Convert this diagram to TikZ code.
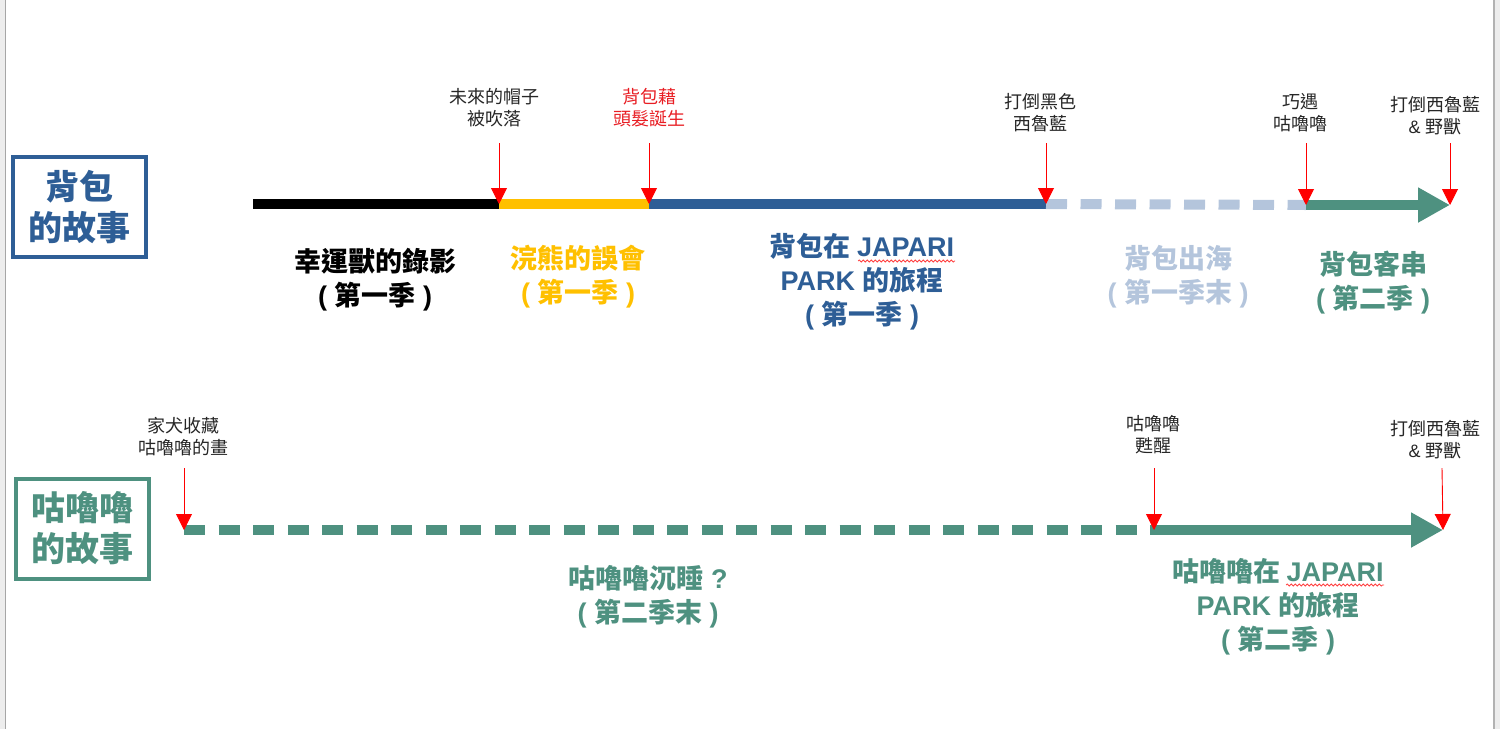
\documentclass[tikz,border=0pt]{standalone}
\usepackage{fontspec}
\setmainfont{Liberation Sans}
\newfontfamily\cjk{Noto Sans CJK TC}
\usetikzlibrary{arrows.meta, decorations.pathmorphing}

\definecolor{bagblue}{RGB}{46,94,150}
\definecolor{seablue}{RGB}{180,197,220}
\definecolor{raccoon}{RGB}{255,192,0}
\definecolor{serval}{RGB}{78,145,128}
\definecolor{hitred}{RGB}{255,0,0}
\definecolor{notered}{RGB}{232,30,36}

\newcommand{\lat}[1]{{\rmfamily #1}}

\begin{document}
\begin{tikzpicture}[x=1pt, y=-1pt,
  story/.style={draw, line width=4pt, minimum width=133pt, minimum height=100pt,
                align=center, inner sep=0pt,
                font=\cjk\bfseries\fontsize{34}{41}\selectfont},
  note/.style={align=center, inner sep=0pt, text=black!85,
               font=\cjk\fontsize{18}{22}\selectfont},
  era/.style={align=center, inner sep=0pt,
              font=\cjk\bfseries\fontsize{27}{34}\selectfont},
  seg/.style={line width=10pt},
  dseg/.style={line width=10pt, dash pattern=on 21pt off 13.5pt},
  bigarr/.style={line width=10pt, -{Triangle[length=32pt, width=33pt]}},
  hit/.style={draw=hitred, line width=0.9pt, -{Triangle[length=16pt, width=16pt]}},
  spell/.style={draw=red!75, line width=0.8pt, decorate,
                decoration={snake, amplitude=1pt, segment length=4pt}}
]
  \useasboundingbox (0,0) rectangle (1500,729);

  % ========== PAGE EDGES ==========
  \fill[black!7] (0,0) rectangle (5,729);
  \draw[black!35, line width=1.5pt] (5.5,0) -- (5.5,729);
  \fill[black!7] (1495,0) rectangle (1500,729);
  \draw[black!30, line width=1.5pt] (1494,0) -- (1494,729);

  % ========== STORY BOXES ==========
  \node[story, draw=bagblue, text=bagblue] (bagbox) at (79.5,207) {背包\\的故事};
  \node[story, draw=serval, text=serval] (serbox) at (82,528.5) {咕嚕嚕\\的故事};

  % ========== TIMELINE 1: Kaban ==========
  \coordinate (a0) at (253,204);
  \coordinate (a1) at (499,204);
  \coordinate (a2) at (649,204);
  \coordinate (a3) at (1046,204);
  \coordinate (a4) at (1306,205);
  \coordinate (a5) at (1450,205);

  \draw[seg, black] (a0) -- (a1);
  \draw[seg, raccoon] (a1) -- (a2);
  \draw[seg, bagblue] (a2) -- (a3);
  \draw[dseg, seablue] (a3) -- (a4);
  \draw[bigarr, serval] (a4) -- (a5);

  % ========== TIMELINE 2: Serval ==========
  \coordinate (b0) at (184,530);
  \coordinate (b1) at (1154,530);
  \coordinate (b2) at (1443,530);

  \draw[dseg, serval] (b0) -- (b1);
  \draw[bigarr, serval] (b1) -- (b2);

  % ======== RED MARKS ========
  \coordinate (ta1) at (499,143);
  \coordinate (ta2) at (649,143);
  \coordinate (ta3) at (1046,143);
  \coordinate (ta4) at (1306,143);
  \coordinate (ta5) at (1450,143);
  \coordinate (tb0) at (184,468);
  \coordinate (tb1) at (1154,468);
  \coordinate (tb2) at (1442,468);

  \foreach \p in {a1,a2,a3,a4,a5,b0,b1,b2}
    \draw[hit] (t\p) -- (\p);

  % ======== EVENT NOTES ========
  \node[note] (hat) at (494,108) {未來的帽子\\被吹落};
  \node[note, text=notered] (born) at (649,108) {背包藉\\頭髮誕生};
  \node[note] (black) at (1040,112.5) {打倒黑色\\西魯藍};
  \node[note] (meet) at (1300,112.5) {巧遇\\咕嚕嚕};
  \node[note] (beat1) at (1435,115.5) {打倒西魯藍\\\lat{\& }野獸};
  \node[note] (paint) at (183,436.5) {家犬收藏\\咕嚕嚕的畫};
  \node[note] (wake) at (1153,434.5) {咕嚕嚕\\甦醒};
  \node[note] (beat2) at (1435,439.5) {打倒西魯藍\\\lat{\& }野獸};

  % ======== ERA LABELS ========
  \node[era, text=black] (rec) at (375,279.5) {幸運獸的錄影\\\lat{( }第一季\lat{ )}};
  \node[era, text=raccoon] (mis) at (578,277) {浣熊的誤會\\\lat{( }第一季\lat{ )}};
  \node[era, text=bagblue] (trip1) at (862,282) {背包在 \lat{JAPARI}\\\lat{PARK }的旅程\\\lat{( }第一季\lat{ )}};
  \node[era, text=seablue] (sea) at (1178,276.5) {背包出海\\\lat{( }第一季末\lat{ )}};
  \node[era, text=serval] (guest) at (1373,282.5) {背包客串\\\lat{( }第二季\lat{ )}};
  \node[era, text=serval] (sleep) at (648,597) {咕嚕嚕沉睡\lat{ ?}\\\lat{( }第二季末\lat{ )}};
  \node[era, text=serval] (trip2) at (1278,607) {咕嚕嚕在 \lat{JAPARI}\\\lat{PARK }的旅程\\\lat{( }第二季\lat{ )}};

  % spell-check squiggles under JAPARI
  \draw[spell] (858,261) -- (955,261);
  \draw[spell] (1286,585) -- (1384,585);

\end{tikzpicture}
\end{document}
